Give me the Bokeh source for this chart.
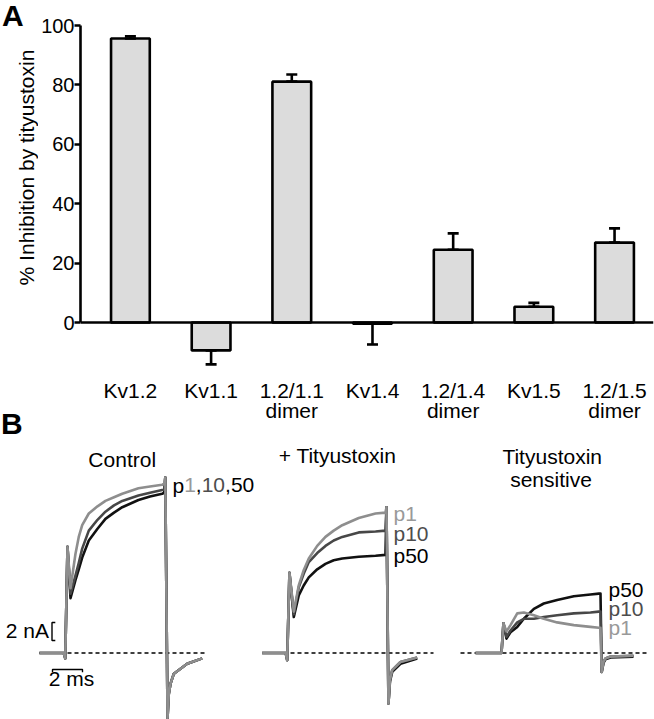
import numpy as np
from bokeh.plotting import figure
from bokeh.layouts import column, row
from bokeh.models import ColumnDataSource, Whisker, TeeHead, Span, FixedTicker, Range1d
from bokeh.core.properties import value
from bokeh.embed import file_html
from bokeh.resources import INLINE

FONT = "Liberation Sans"

# ---------------- data: panel A ----------------
categories = ["Kv1.2", "Kv1.1", "1.2/1.1", "Kv1.4", "1.2/1.4", "Kv1.5", "1.2/1.5"]
category_sublabels = ["", "", "dimer", "", "dimer", "", "dimer"]
inhibition = [95.6, -9.4, 81.1, -0.4, 24.5, 5.3, 26.9]
inhibition_sem = [0.8, 4.7, 2.4, 7.0, 5.5, 1.3, 4.8]
y_ticks = [0, 20, 40, 60, 80, 100]
y_title = "% Inhibition by tityustoxin"

# ---------------- data: panel B (time in ms from pulse onset, current in nA) ----------------
ctrl_t = [-1.77, -0.15, -0.05, 0.1, 0.3, 0.63, 0.85, 1.08, 1.52, 2.1, 2.63, 3.2, 3.75, 4.83,
          5.6, 6.41, 6.55, 6.62, 6.77, 6.85, 6.97, 7.19, 8.08, 9.08]
ctrl_p1 = [0, 0, -0.6, 11.8, 7.2, 11.0, 12.9, 14.2, 15.5, 16.3, 16.9, 17.3, 17.7, 18.3,
           18.5, 18.7, 18.8, 19.5, -7.2, -4.6, -3.4, -2.3, -1.2, -0.6]
ctrl_p10 = [0, 0, -0.6, 11.8, 6.6, 8.6, 10.0, 11.6, 13.6, 14.8, 15.7, 16.4, 16.9, 17.5,
            17.8, 18.1, 18.2, 19.5, -7.2, -4.6, -3.4, -2.3, -1.2, -0.6]
ctrl_p50 = [0, 0, -0.6, 11.8, 6.1, 8.1, 9.3, 10.6, 12.5, 13.8, 14.9, 15.6, 16.2, 17.0,
            17.4, 17.7, 17.8, 19.5, -7.2, -4.6, -3.4, -2.3, -1.2, -0.6]

ttx_t = [-1.67, -0.1, 0.0, 0.15, 0.44, 0.77, 1.1, 1.44, 2.0, 2.55, 3.1, 3.67, 4.77, 5.89,
         6.55, 6.62, 6.75, 6.85, 7.0, 7.55, 8.67]
ttx_p1 = [0, 0, -0.8, 8.9, 4.6, 7.5, 9.2, 10.5, 11.9, 12.9, 13.6, 14.2, 15.0, 15.5,
          15.6, 16.2, -5.6, -3.0, -1.9, -1.0, -0.5]
ttx_p10 = [0, 0, -0.8, 8.9, 4.3, 7.3, 8.8, 10.1, 11.1, 11.9, 12.5, 12.9, 13.4, 13.5,
           13.6, 16.2, -5.6, -3.0, -1.9, -1.0, -0.5]
ttx_p50 = [0, 0, -0.8, 8.9, 4.0, 6.4, 7.5, 8.4, 9.3, 9.9, 10.3, 10.5, 10.7, 10.8,
           10.9, 16.2, -5.6, -3.2, -2.1, -1.2, -0.6]

sens_t = [-1.73, 0.0, 0.13, 0.33, 0.6, 1.05, 1.49, 2.16, 2.82, 3.71, 4.82, 5.93, 6.49,
          6.6, 6.68, 6.8, 6.93, 7.27, 8.8]
sens_p1 = [0, 0, 3.3, 2.4, 3.1, 4.4, 4.5, 4.2, 3.8, 3.4, 3.1, 2.9, 2.8,
           2.8, -2.1, -1.0, -0.6, -0.4, -0.3]
sens_p10 = [0, 0, 3.3, 1.8, 2.5, 3.4, 3.8, 3.8, 4.0, 4.2, 4.4, 4.5, 4.6,
            4.6, -2.1, -1.0, -0.6, -0.4, -0.3]
sens_p50 = [0, 0, 3.3, 1.6, 2.3, 2.9, 3.8, 4.9, 5.5, 5.9, 6.3, 6.5, 6.6,
            6.6, -2.1, -1.1, -0.7, -0.5, -0.4]

panel_titles = ["Control", "+ Tityustoxin", "Tityustoxin\nsensitive"]
pulse_labels = ["p1", "p10", "p50"]
scale_nA = 2
scale_ms = 2

# ---------------- layout constants (page pixels) ----------------
W, H = 654, 719
A_H = 441                 # height of the upper strip (panel A)
L_W = 38                  # left strip holding panel letters and y-axis title
A_FRAME_LEFT, A_FRAME_RIGHT, A_FRAME_TOP = 79, 653, 13
A_ZERO_PX, A_PX_PER_PCT = 322.0, 2.97
A_X1_PX, A_PX_PER_CAT = 129.0, 80.83


def a_y(py):
    return (A_ZERO_PX - py) / A_PX_PER_PCT


def a_x(px):
    return 1 + (px - A_X1_PX) / A_PX_PER_CAT


C_P1, C_P10, C_P50 = "#8e8e8e", "#474747", "#111111"
T_P1, T_P10, T_P50 = "#999999", "#4d4d4d", "#000000"
TXT = dict(text_font=value(FONT), text_font_size=value("21px"), text_baseline="middle")
BOLD = dict(text_font=value(FONT), text_font_size=value("30px"), text_font_style="bold",
            text_baseline="middle", text_color="black")


def bare(fig):
    fig.outline_line_color = None
    fig.grid.visible = False
    fig.background_fill_color = "white"
    fig.border_fill_color = "white"
    if "frame_align" in fig.properties():
        fig.frame_align = False
    return fig


# ---------------- left strip: letters + y-axis title ----------------
pL = bare(figure(width=L_W, height=A_H, output_backend="svg", toolbar_location=None,
                 x_range=Range1d(0, L_W), y_range=Range1d(a_y(A_H), a_y(0)),
                 x_axis_location=None, y_axis_location=None, min_border=0))
pL.text(x=[1.5], y=[a_y(14.5)], text=["A"], **BOLD)
pL.text(x=[0.5], y=[a_y(422.5)], text=["B"], **BOLD)
pL.text(x=[25.8], y=[a_y(167)], text=[y_title], angle=np.pi / 2, text_align="center",
        text_color="black", **TXT)

# ---------------- panel A ----------------
xpos = np.arange(1, len(categories) + 1)
vals = np.array(inhibition)
errs = np.array(inhibition_sem)
hi = np.where(vals >= 0, vals + errs, vals)
lo = np.where(vals >= 0, vals, vals - errs)
srcA = ColumnDataSource(dict(x=xpos, top=vals, hi=hi, lo=lo,
                             lab=categories, lab2=category_sublabels))

pA = bare(figure(width=W - L_W, height=A_H, output_backend="svg", toolbar_location=None,
                 x_range=Range1d(a_x(A_FRAME_LEFT), a_x(A_FRAME_RIGHT)),
                 y_range=Range1d(a_y(A_H), a_y(A_FRAME_TOP)),
                 x_axis_location=None, y_axis_location="left",
                 min_border_left=A_FRAME_LEFT - L_W, min_border_right=W - A_FRAME_RIGHT,
                 min_border_top=A_FRAME_TOP, min_border_bottom=0))

ax = pA.yaxis[0]
ax.bounds = (0, 100)
ax.ticker = FixedTicker(ticks=y_ticks)
ax.major_tick_out = 6
ax.major_tick_in = 0
ax.minor_tick_out = 0
ax.minor_tick_in = 0
ax.axis_line_width = 2.6
ax.axis_line_color = "black"
ax.major_tick_line_width = 2.6
ax.major_tick_line_color = "black"
ax.major_label_text_font = FONT
ax.major_label_text_font_size = "20px"
ax.major_label_text_color = "black"
ax.major_label_standoff = 0

pA.vbar(x="x", top="top", bottom=0, width=0.48, source=srcA,
        fill_color="#dcdcdc", line_color="black", line_width=2.6)
pA.add_layout(Span(location=0, dimension="width", line_color="black", line_width=2.6))
pA.add_layout(Whisker(source=srcA, base="x", lower="lo", upper="hi",
                      line_color="black", line_width=2.6, level="overlay",
                      lower_head=TeeHead(size=11, line_width=2.6, line_color="black"),
                      upper_head=TeeHead(size=11, line_width=2.6, line_color="black")))

pA.text(x="x", y=a_y(389.6), text="lab", source=srcA, text_align="center",
        text_color="black", **TXT)
pA.text(x="x", y=a_y(409.6), text="lab2", source=srcA, text_align="center",
        text_color="black", **TXT)

# ---------------- panel B ----------------
B_H = H - A_H
PX_PER_MS, PX_PER_NA, BASE_PX = 15.0, 9.0, 652.5
ONSETS = {"default": 65.5, "ttx": 286.7, "sens": 501.0}


def t_rng(onset):
    return Range1d((0 - onset) / PX_PER_MS, (W - onset) / PX_PER_MS)


def b_y(py):
    return (BASE_PX - py) / PX_PER_NA


def b_t(px, panel):
    return (px - ONSETS[panel]) / PX_PER_MS


pB = bare(figure(width=W, height=B_H, output_backend="svg", toolbar_location=None,
                 x_range=t_rng(ONSETS["default"]), y_range=Range1d(b_y(H), b_y(A_H)),
                 x_axis_location=None, y_axis_location=None, min_border=0))
pB.extra_x_ranges = {"ttx": t_rng(ONSETS["ttx"]), "sens": t_rng(ONSETS["sens"])}

# dashed zero-current lines
dash_panels = ["default", "ttx", "sens"]
dash_from = [39, 262, 460]
dash_to = [207, 433, 649]
for pn, a, b in zip(dash_panels, dash_from, dash_to):
    pB.segment(x0=b_t(a, pn), y0=0, x1=b_t(b, pn), y1=0, x_range_name=pn,
               line_color="black", line_width=1.3, line_dash="4 3")

traces = [
    ("default", ctrl_t, [ctrl_p50, ctrl_p10, ctrl_p1]),
    ("ttx", ttx_t, [ttx_p50, ttx_p10, ttx_p1]),
    ("sens", sens_t, [sens_p50, sens_p10, sens_p1]),
]
for pn, tt, series in traces:
    for ys, col in zip(series, [C_P50, C_P10, C_P1]):
        pB.line(tt, ys, x_range_name=pn, line_color=col, line_width=2.6,
                line_join="round")

# panel titles
pB.text(x=[b_t(121.7, "default")], y=[b_y(458.7)], text=[panel_titles[0]],
        text_align="center", text_color="black", **TXT)
pB.text(x=[b_t(337, "ttx")], y=[b_y(454.7)], text=[panel_titles[1]], x_range_name="ttx",
        text_align="center", text_color="black", **TXT)
sens_lines = panel_titles[2].split("\n")
pB.text(x=[b_t(551.7, "sens"), b_t(550.5, "sens")], y=[b_y(455.7), b_y(479.3)],
        text=sens_lines, x_range_name="sens", text_align="center", text_color="black", **TXT)

# control label "p1,10,50" with coloured numbers
em = 21
pieces = ["p", "1", ",", "10", ",50"]
piece_cols = ["#000000", T_P1, "#000000", T_P10, "#000000"]
piece_w = {"p": 0.556, "1": 0.556, "0": 0.556, "5": 0.556, ",": 0.278}
offs, acc = [], 0.0
for s in pieces:
    offs.append(acc)
    acc += sum(piece_w[c] for c in s) * em
srcP = ColumnDataSource(dict(x=[b_t(172, "default")] * len(pieces),
                             y=[b_y(484.6)] * len(pieces), text=pieces,
                             off=offs, col=piece_cols))
pB.text(x="x", y="y", text="text", x_offset="off", text_color="col", source=srcP,
        text_align="left", **TXT)

# toxin / sensitive labels
lab_cols = [T_P1, T_P10, T_P50]
pB.text(x=[b_t(393, "ttx")] * 3, y=[b_y(512.6), b_y(533.1), b_y(554.6)], text=pulse_labels,
        text_color=lab_cols, x_range_name="ttx", text_align="left", **TXT)
pB.text(x=[b_t(608, "sens")] * 3, y=[b_y(626.6), b_y(607.6), b_y(588.6)], text=pulse_labels,
        text_color=lab_cols, x_range_name="sens", text_align="left", **TXT)

# scale bars (control panel units)
bar_t = b_t(51.5, "default")
bar_y0 = b_y(640)
pB.line([bar_t + 0.22, bar_t, bar_t, bar_t + 0.22],
        [bar_y0, bar_y0, bar_y0 + scale_nA, bar_y0 + scale_nA],
        line_color="black", line_width=1.4)
pB.text(x=[b_t(48.5, "default")], y=[b_y(629.6)], text=[f"{scale_nA} nA"],
        text_align="right", text_color="black", **TXT)
ms_t0 = b_t(52, "default")
ms_y = b_y(669)
pB.line([ms_t0, ms_t0, ms_t0 + scale_ms, ms_t0 + scale_ms],
        [ms_y - 0.3, ms_y, ms_y, ms_y - 0.3], line_color="black", line_width=1.4)
pB.text(x=[b_t(71, "default")], y=[b_y(677.6)], text=[f"{scale_ms} ms"],
        text_align="center", text_color="black", **TXT)

layout = column(row(pL, pA, spacing=0), pB, spacing=0)
open("out.html", "w").write(file_html(layout, INLINE))
